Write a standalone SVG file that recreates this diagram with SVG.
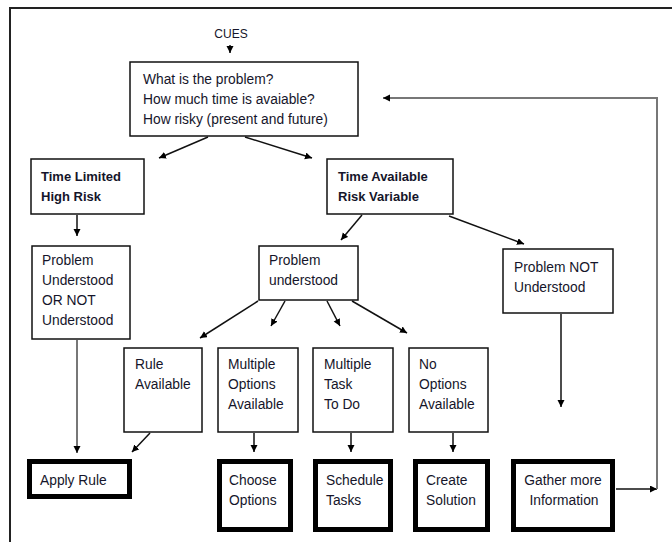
<svg xmlns="http://www.w3.org/2000/svg" width="672" height="542" viewBox="0 0 672 542">
  <style>
    text { font-family: "Liberation Sans", Arial, sans-serif; font-size: 13.8px; fill: #15152a; }
    .b { font-weight: bold; font-size: 13px; }
    .cues { font-size: 12px; }
    .c { text-anchor: middle; }
    .box { fill: #fff; stroke: #111; stroke-width: 1.5; }
    .end { fill: #fff; stroke: #000; stroke-width: 5; }
    .ln { fill: none; stroke: #111; stroke-width: 1.5; marker-end: url(#ah); }
    .gray { stroke: #777; stroke-width: 2; }
  </style>
  <defs>
    <marker id="ah" markerUnits="userSpaceOnUse" markerWidth="8" markerHeight="8" refX="7" refY="3.5" orient="auto">
      <path d="M0,0 L7,3.5 L0,7 z" fill="#000"/>
    </marker>
  </defs>

  <rect width="672" height="542" fill="#fff"/>
  <!-- page frame -->
  <path d="M10,542 L10,8 L672,8" fill="none" stroke="#222" stroke-width="2"/>

  <g id="connectors">
    <path class="ln" d="M230,45 L230,53"/>
    <path class="ln" d="M208,137 L159,158"/>
    <path class="ln" d="M245,137 L312,158"/>
    <path class="ln" d="M77,215 L77,236"/>
    <path class="ln gray" d="M77,340 L77,453"/>
    <path class="ln" d="M362,215 L341,240"/>
    <path class="ln" d="M449,216 L524,244"/>
    <path class="ln" d="M258,301 L200,338"/>
    <path class="ln" d="M285,301 L271,326"/>
    <path class="ln" d="M327,301 L340,326"/>
    <path class="ln" d="M352,301 L407,333"/>
    <path class="ln" d="M561,314 L561,407"/>
    <path class="ln" d="M150,433 L132,452"/>
    <path class="ln" d="M254,433 L254,452"/>
    <path class="ln" d="M351,433 L351,452"/>
    <path class="ln" d="M453,433 L453,452"/>
    <path class="ln" d="M616,489 L657,489"/>
    <path class="ln gray" d="M657,489 L657,98 L383,98"/>
  </g>

  <g id="cues"><text class="cues" x="231" y="38" text-anchor="middle">CUES</text></g>

  <g id="questions">
    <rect class="box" x="130" y="62" width="228" height="74"/>
    <text x="143" y="84">What is the problem?</text>
    <text x="143" y="104">How much time is avaiable?</text>
    <text x="143" y="124">How risky (present and future)</text>
  </g>

  <g id="time-limited">
    <rect class="box" x="31" y="159" width="113" height="55"/>
    <text class="b" x="41" y="181">Time Limited</text>
    <text class="b" x="41" y="201">High Risk</text>
  </g>

  <g id="time-available">
    <rect class="box" x="327" y="159" width="126" height="55"/>
    <text class="b" x="338" y="181">Time Available</text>
    <text class="b" x="338" y="201">Risk Variable</text>
  </g>

  <g id="understood-or-not">
    <rect class="box" x="32" y="246" width="98" height="93"/>
    <text x="42" y="265">Problem</text>
    <text x="42" y="285">Understood</text>
    <text x="42" y="305">OR NOT</text>
    <text x="42" y="325">Understood</text>
  </g>

  <g id="problem-understood">
    <rect class="box" x="259" y="246" width="99" height="54"/>
    <text x="269" y="265">Problem</text>
    <text x="269" y="285">understood</text>
  </g>

  <g id="problem-not-understood">
    <rect class="box" x="503" y="249" width="110" height="64"/>
    <text x="514" y="272">Problem NOT</text>
    <text x="514" y="292">Understood</text>
  </g>

  <g id="rule-available">
    <rect class="box" x="124" y="348" width="78" height="84"/>
    <text x="135" y="369">Rule</text>
    <text x="135" y="389">Available</text>
  </g>

  <g id="multiple-options">
    <rect class="box" x="218" y="348" width="80" height="84"/>
    <text x="228" y="369">Multiple</text>
    <text x="228" y="389">Options</text>
    <text x="228" y="409">Available</text>
  </g>

  <g id="multiple-task">
    <rect class="box" x="313" y="348" width="80" height="84"/>
    <text x="324" y="369">Multiple</text>
    <text x="324" y="389">Task</text>
    <text x="324" y="409">To Do</text>
  </g>

  <g id="no-options">
    <rect class="box" x="409" y="348" width="79" height="84"/>
    <text x="419" y="369">No</text>
    <text x="419" y="389">Options</text>
    <text x="419" y="409">Available</text>
  </g>

  <g id="apply-rule">
    <rect class="end" x="29.5" y="461.5" width="100" height="35"/>
    <text x="40" y="485">Apply Rule</text>
  </g>

  <g id="choose-options">
    <rect class="end" x="219.5" y="461.5" width="71" height="68"/>
    <text x="229" y="485">Choose</text>
    <text x="229" y="505">Options</text>
  </g>

  <g id="schedule-tasks">
    <rect class="end" x="315.5" y="461.5" width="75" height="68"/>
    <text x="326" y="485">Schedule</text>
    <text x="326" y="505">Tasks</text>
  </g>

  <g id="create-solution">
    <rect class="end" x="415.5" y="461.5" width="72" height="68"/>
    <text x="426" y="485">Create</text>
    <text x="426" y="505">Solution</text>
  </g>

  <g id="gather-information">
    <rect class="end" x="513.5" y="461.5" width="99" height="68"/>
    <text class="c" x="563" y="485">Gather more</text>
    <text class="c" x="564" y="505">Information</text>
  </g>
</svg>
